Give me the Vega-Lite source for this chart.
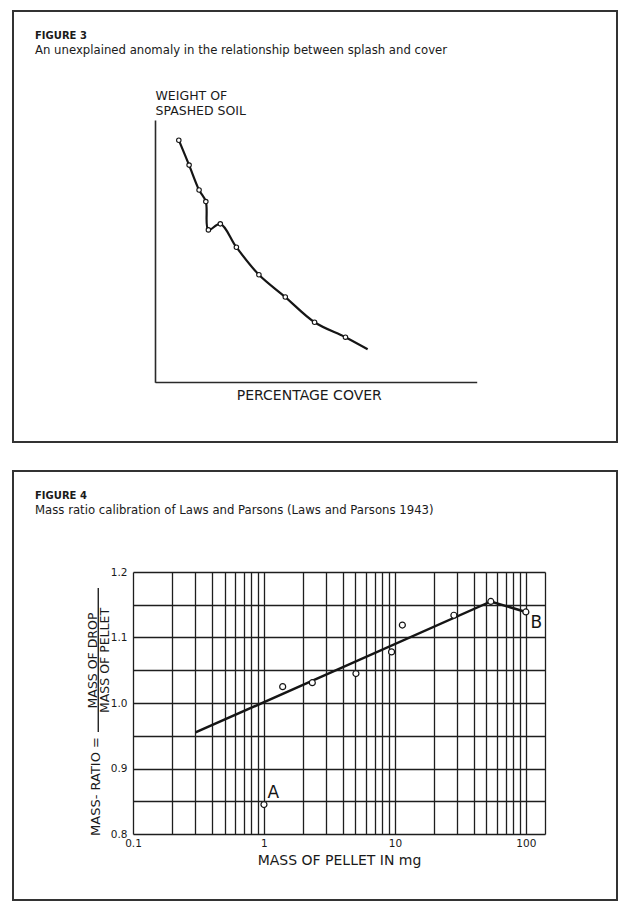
{
  "$schema": "https://vega.github.io/schema/vega-lite/v6.json",
  "padding": {"left": 12, "top": 10, "right": 0, "bottom": 0},
  "spacing": 27,
  "background": "white",
  "config": {
    "view": {"stroke": "#333333", "strokeWidth": 2},
    "font": "DejaVu Sans",
    "axis": {"labelFont": "DejaVu Sans", "titleFont": "DejaVu Sans"},
    "title": {"anchor": "start", "frame": "group", "dx": 22, "offset": -46, "font": "DejaVu Sans", "fontSize": 10, "fontWeight": "bold", "color": "#1a1a1a", "subtitleFont": "DejaVu Sans", "subtitleFontSize": 11.7, "subtitleColor": "#1a1a1a", "subtitlePadding": 4}
  },
  "datasets": {
    "splash": [
      {"cover": 7.4, "weight": 92.3, "observed": true},
      {"cover": 10.6, "weight": 82.8, "observed": true},
      {"cover": 13.7, "weight": 73.3, "observed": true},
      {"cover": 15.8, "weight": 68.9, "observed": true},
      {"cover": 16.6, "weight": 58.1, "observed": true},
      {"cover": 20.3, "weight": 60.4, "observed": true},
      {"cover": 25.3, "weight": 51.5, "observed": true},
      {"cover": 32.3, "weight": 41.0, "observed": true},
      {"cover": 40.5, "weight": 32.5, "observed": true},
      {"cover": 49.6, "weight": 22.9, "observed": true},
      {"cover": 59.2, "weight": 17.2, "observed": true},
      {"cover": 66.1, "weight": 12.6, "observed": false}
    ],
    "laws": [
      {"mass": 1.0, "ratio": 0.845},
      {"mass": 1.39, "ratio": 1.025},
      {"mass": 2.34, "ratio": 1.031},
      {"mass": 5.04, "ratio": 1.045},
      {"mass": 9.43, "ratio": 1.078},
      {"mass": 11.4, "ratio": 1.119},
      {"mass": 28.2, "ratio": 1.134},
      {"mass": 54, "ratio": 1.155},
      {"mass": 100, "ratio": 1.139}
    ],
    "fit": [
      {"mass": 0.3, "ratio": 0.955},
      {"mass": 54, "ratio": 1.155},
      {"mass": 100, "ratio": 1.139}
    ],
    "tags": [
      {"label": "A", "mass": 1.18, "ratio": 0.862},
      {"label": "B", "mass": 120, "ratio": 1.122}
    ]
  },
  "vconcat": [
    {
      "width": 604,
      "height": 431,
      "title": {"text": "FIGURE 3", "subtitle": "An unexplained anomaly in the relationship between splash and cover"},
      "data": {"name": "splash"},
      "resolve": {"axis": {"x": "independent", "y": "independent"}},
      "layer": [
        {
          "mark": {"type": "line", "interpolate": "catmull-rom", "color": "#151515", "strokeWidth": 2.2},
          "encoding": {
            "x": {"field": "cover", "type": "quantitative",
              "scale": {"domain": [0, 100], "range": [142, 463.7], "nice": false, "zero": false},
              "axis": {"orient": "bottom", "offset": -60, "grid": false, "ticks": false, "labels": false, "domain": true, "domainColor": "#2a2a2a", "domainWidth": 1.6, "title": "PERCENTAGE COVER", "titleFontSize": 14, "titleFontWeight": "normal", "titleColor": "#1a1a1a", "titleX": 295.8, "titleY": 17, "titleAlign": "center", "titleBaseline": "alphabetic"}},
            "y": {"field": "weight", "type": "quantitative",
              "scale": {"domain": [0, 100], "range": [371.3, 109], "nice": false, "zero": false},
              "axis": {"orient": "left", "offset": -142, "grid": false, "ticks": false, "labels": false, "domain": true, "domainColor": "#2a2a2a", "domainWidth": 1.6, "title": ["WEIGHT OF", "SPASHED SOIL"], "titleAngle": 0, "titleAlign": "left", "titleBaseline": "alphabetic", "titleX": 0, "titleY": 88.5, "titleLineHeight": 14.8, "titleFontSize": 12.5, "titleFontWeight": "normal", "titleColor": "#1a1a1a"}}
          }
        },
        {
          "transform": [{"filter": "datum.observed"}],
          "mark": {"type": "point", "shape": "circle", "filled": false, "fill": "white", "stroke": "#151515", "strokeWidth": 1.1, "size": 20, "opacity": 1},
          "encoding": {
            "x": {"field": "cover", "type": "quantitative", "scale": {"domain": [0, 100], "range": [142, 463.7], "nice": false, "zero": false}, "axis": null},
            "y": {"field": "weight", "type": "quantitative", "scale": {"domain": [0, 100], "range": [371.3, 109], "nice": false, "zero": false}, "axis": null}
          }
        }
      ]
    },
    {
      "width": 604,
      "height": 429,
      "title": {"text": "FIGURE 4", "subtitle": "Mass ratio calibration of Laws and Parsons (Laws and Parsons 1943)"},
      "resolve": {"axis": {"x": "independent", "y": "independent"}},
      "layer": [
        {
          "data": {"name": "fit"},
          "mark": {"type": "line", "color": "#151515", "strokeWidth": 2.5},
          "encoding": {
            "x": {"field": "mass", "type": "quantitative",
              "scale": {"type": "log", "domain": [0.1, 140], "range": [120, 532], "nice": false},
              "axis": {"orient": "top", "values": [0.1, 0.2, 0.3, 0.4, 0.5, 0.6, 0.7, 0.8, 0.9, 1, 2, 3, 4, 5, 6, 7, 8, 9, 10, 20, 30, 40, 50, 60, 70, 80, 90, 100, 140], "grid": true, "gridColor": "#1e1e1e", "gridWidth": 1.3, "gridOpacity": 1, "domain": false, "ticks": false, "labels": false, "title": null}},
            "y": {"field": "ratio", "type": "quantitative",
              "scale": {"domain": [0.8, 1.2], "range": [363, 101], "nice": false, "zero": false},
              "axis": {"orient": "left", "offset": -120, "values": [0.8, 0.85, 0.9, 0.95, 1.0, 1.05, 1.1, 1.15, 1.2], "labelExpr": "round(datum.value * 100) % 10 == 0 ? format(datum.value, '.1f') : ''", "grid": true, "gridColor": "#1e1e1e", "gridWidth": 1.3, "gridOpacity": 1, "domain": false, "ticks": false, "labelOverlap": false, "labelFlush": false, "labelPadding": 6, "labelFontSize": 10.5, "labelColor": "#1a1a1a", "title": ["MASS OF DROP", "MASS OF PELLET"], "titleAngle": 270, "titleAlign": "center", "titleBaseline": "alphabetic", "titleX": -36.3, "titleY": 189, "titleLineHeight": 11.8, "titleFontSize": 12.5, "titleFontWeight": "normal", "titleColor": "#1a1a1a"}}
          }
        },
        {
          "data": {"name": "laws"},
          "mark": {"type": "point", "shape": "circle", "filled": false, "fill": "white", "stroke": "#151515", "strokeWidth": 1.2, "size": 36, "opacity": 1},
          "encoding": {
            "x": {"field": "mass", "type": "quantitative", "scale": {"type": "log", "domain": [0.1, 140], "range": [120, 532], "nice": false},
              "axis": {"orient": "bottom", "offset": -66, "values": [0.1, 1, 10, 100], "format": "~g", "grid": false, "domain": false, "ticks": false, "labelFlush": false, "labelOverlap": false, "labelPadding": 4, "labelFontSize": 10.5, "labelColor": "#1a1a1a", "title": "MASS OF PELLET IN mg", "titleFontSize": 14, "titleFontWeight": "normal", "titleColor": "#1a1a1a", "titlePadding": 5}},
            "y": {"field": "ratio", "type": "quantitative", "scale": {"domain": [0.8, 1.2], "range": [363, 101], "nice": false, "zero": false}, "axis": null}
          }
        },
        {
          "data": {"name": "tags"},
          "mark": {"type": "text", "fontSize": 17, "font": "DejaVu Sans", "color": "#151515", "align": "center", "baseline": "middle"},
          "encoding": {
            "x": {"field": "mass", "type": "quantitative", "scale": {"type": "log", "domain": [0.1, 140], "range": [120, 532], "nice": false}, "axis": null},
            "y": {"field": "ratio", "type": "quantitative", "scale": {"domain": [0.8, 1.2], "range": [363, 101], "nice": false, "zero": false}, "axis": null},
            "text": {"field": "label"}
          }
        },
        {
          "data": {"values": [{}]},
          "mark": {"type": "rule", "color": "#222222", "strokeWidth": 1.4},
          "encoding": {
            "x": {"datum": 0.0543, "type": "quantitative", "scale": {"type": "log", "domain": [0.1, 140], "range": [120, 532], "nice": false}, "axis": null},
            "y": {"datum": 0.9557, "type": "quantitative", "scale": {"domain": [0.8, 1.2], "range": [363, 101], "nice": false, "zero": false},
              "axis": {"orient": "left", "offset": -120, "grid": false, "ticks": false, "labels": false, "domain": false, "title": "MASS- RATIO =", "titleAngle": 270, "titleAlign": "center", "titleBaseline": "alphabetic", "titleX": -33.75, "titleY": 315, "titleFontSize": 13, "titleFontWeight": "normal", "titleColor": "#1a1a1a"}},
            "y2": {"datum": 1.1756}
          }
        }
      ]
    }
  ]
}
